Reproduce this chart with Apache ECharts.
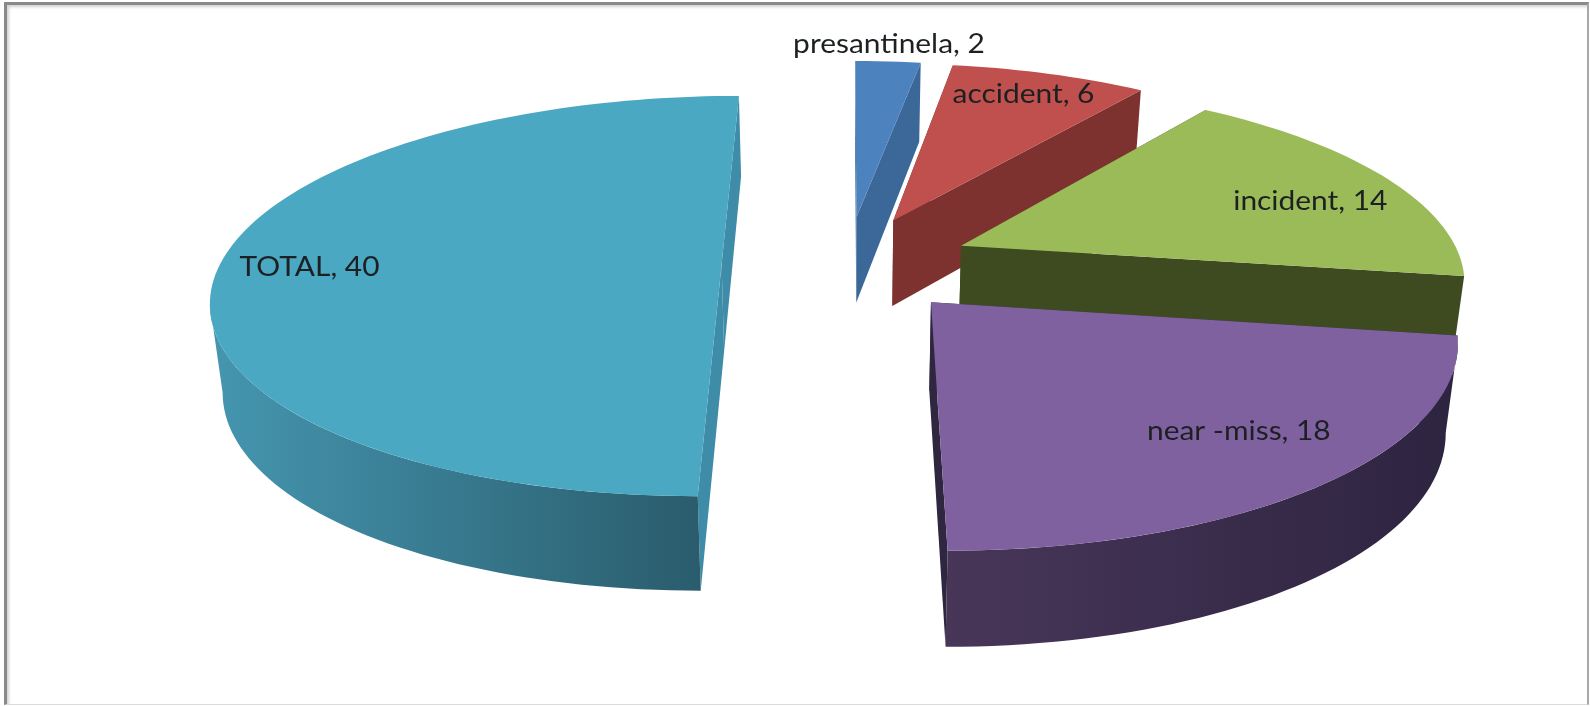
<!DOCTYPE html>
<html>
<head>
<meta charset="utf-8">
<style>
html,body{margin:0;padding:0;background:#fff;width:1591px;height:706px;overflow:hidden}
#chart{position:absolute;left:0;top:0;width:1591px;height:706px;filter:blur(0.6px)}
#frame{position:absolute;left:4px;top:2px;right:2px;bottom:1px;box-sizing:border-box;
border-left:3px solid #8a8a8a;border-top:3px solid #8a8a8a;border-right:2px solid #a8a8a8;border-bottom:1px solid #dcdcdc;
box-shadow:inset 2px 2px 3px rgba(0,0,0,.18);pointer-events:none}
</style>
<script src="https://cdn.jsdelivr.net/npm/echarts@6/dist/echarts.min.js"></script>
</head>
<body>
<div id="chart"></div>
<div id="frame"></div>
<script>
// Data
const categories = ['presantinela', 'accident', 'incident', 'near -miss', 'TOTAL'];
const values = [2, 6, 14, 18, 40];

// Styles
const topColors = ['#4c82bd', '#c0504d', '#9bbb59', '#8061a0', '#4aa8c3'];
const cutColors = ['#3c6899', '#7e3230', '#3e4a20', '#2f2640', '#3f8ca8'];
const wallStops = [
  ['#3c6899', '#3c6899'],
  ['#7e3230', '#7e3230'],
  ['#3e4a20', '#3e4a20'],
  ['#483659', '#2d2440'],
  ['#4596b0', '#2a5c6c']
];
const labelRadius = [1.144, 0.847, 0.781, 0.765, 0.824];
const labelTurn = [-0.6, -1.1, 3.8, -2.5, -0.7];

// Projection of the pie disc onto the page
const view = { x0: 847, y0: 264, a: 501.5, b: 195, p: 0.16, depth: 87, depthP: 0.08, converge: 0.02, explode: 0.25 };

function project(X, V, low) {
  const w = 1 - view.p * V;
  let sx = view.x0 + view.a * X / w;
  let sy = view.y0 + view.b * V / w;
  if (low) {
    sy += view.depth / (1 - view.depthP * V);
    sx = view.x0 + (sx - view.x0) * (1 - view.converge);
  }
  return [sx, sy];
}
const rad = d => d * Math.PI / 180;
const total = values.reduce((a, b) => a + b, 0);

function arc(ox, oz, from, to, low) {
  const pts = [];
  const n = Math.max(2, Math.ceil((to - from) / 1.5));
  for (let i = 0; i <= n; i++) {
    const t = rad(from + (to - from) * i / n);
    pts.push(project(ox + Math.sin(t), oz - Math.cos(t), low));
  }
  return pts;
}

// angle at which the disc's outline turns back horizontally (silhouette tip)
function tipAngle(ox, oz, lo, hi, sign) {
  let best = lo, bestX = -Infinity;
  for (let a = lo; a <= hi; a += 0.25) {
    const t = rad(a);
    const sx = sign * project(ox + Math.sin(t), oz - Math.cos(t), false)[0];
    if (sx > bestX) { bestX = sx; best = a; }
  }
  return best;
}

function renderSlice(params, api) {
  const i = params.dataIndex;
  let before = 0;
  for (let k = 0; k < i; k++) before += values[k];
  const from = before / total * 360;
  const to = (before + api.value(0)) / total * 360;
  const midDeg = (from + to) / 2;
  const mid = rad(midDeg);
  const ox = view.explode * Math.sin(mid);
  const oz = -view.explode * Math.cos(mid);
  const apexT = project(ox, oz, false);
  const apexB = project(ox, oz, true);
  const kids = [];
  const poly = (points, fill) => kids.push({ type: 'polygon', shape: { points }, style: { fill, stroke: null } });

  // cut faces
  [from, to].forEach(a => {
    const t = rad(a);
    const X = ox + Math.sin(t), V = oz - Math.cos(t);
    poly([apexT, project(X, V, false), project(X, V, true), apexB], cutColors[i]);
  });
  // curved outer wall, between the two silhouette tips
  const wf = Math.max(from, tipAngle(ox, oz, 60, 120, 1));
  const wt = Math.min(to, tipAngle(ox, oz, 240, 300, -1));
  if (wt > wf) {
    const up = arc(ox, oz, wf, wt, false);
    const dn = arc(ox, oz, wf, wt, true).reverse();
    poly(up.concat(dn), new echarts.graphic.LinearGradient(0, 0, 1, 0, [
      { offset: 0, color: wallStops[i][0] },
      { offset: 1, color: wallStops[i][1] }
    ]));
  }
  // top face
  poly([apexT].concat(arc(ox, oz, from, to, false)), topColors[i]);
  // label
  const r = labelRadius[i];
  const la = rad(midDeg + labelTurn[i]);
  const lp = project(ox + r * Math.sin(la), oz - r * Math.cos(la), false);
  kids.push({
    type: 'text', z2: 10,
    x: lp[0] + 2, y: lp[1] + 2, scaleX: 1.15,
    style: {
      x: 0, y: 0, text: categories[i] + ', ' + api.value(0),
      fill: '#1d2022', font: '26px Lato', align: 'center', verticalAlign: 'middle'
    }
  });
  return { type: 'group', children: kids };
}

const chart = echarts.init(document.getElementById('chart'), null, { renderer: 'canvas' });
chart.setOption({
  animation: false,
  backgroundColor: '#ffffff',
  series: [{
    type: 'custom',
    coordinateSystem: 'none',
    silent: true,
    renderItem: renderSlice,
    data: values.map((v, i) => ({ name: categories[i], value: [v] }))
  }]
});
</script>
</body>
</html>
